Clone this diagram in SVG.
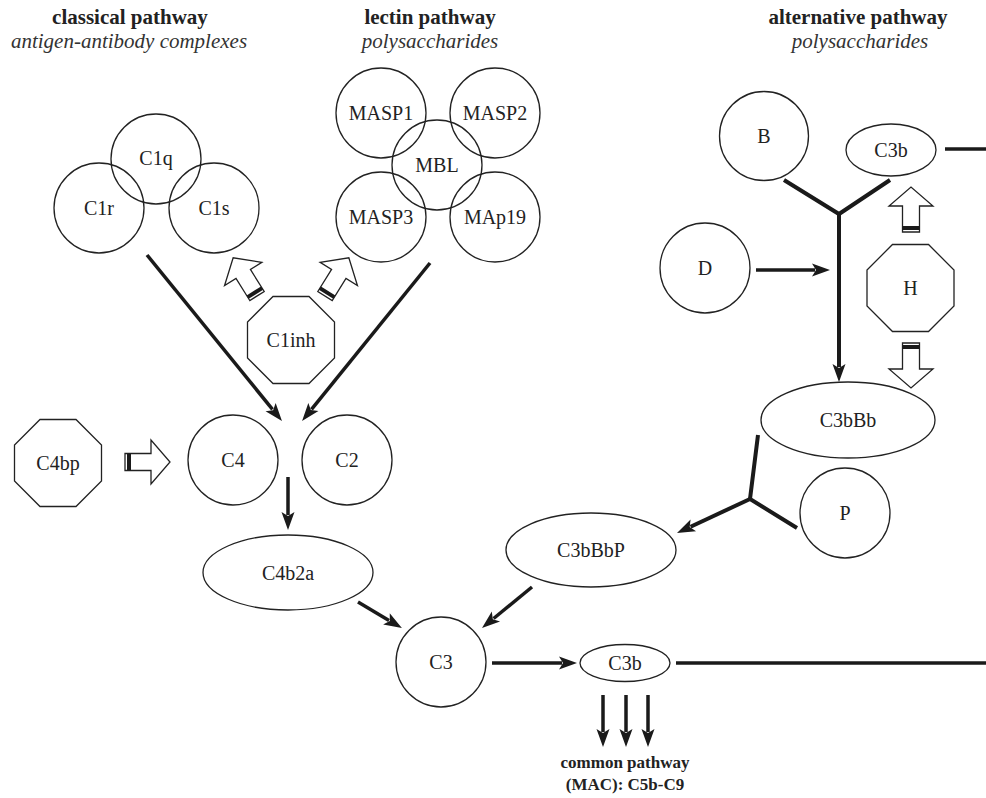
<svg xmlns="http://www.w3.org/2000/svg" xmlns:xlink="http://www.w3.org/1999/xlink" width="986" height="798" viewBox="0 0 986 798">
<style>
.n{fill:#fff;stroke:#222;stroke-width:1.3}
.o{fill:none;stroke:#222;stroke-width:1.3}
.t{font-family:"Liberation Serif","Times New Roman",serif;font-size:20px;fill:#222;text-anchor:middle}
.h{font-family:"Liberation Serif","Times New Roman",serif;font-size:21px;font-weight:bold;fill:#222;text-anchor:middle}
.i{font-family:"Liberation Serif","Times New Roman",serif;font-size:21px;font-style:italic;fill:#333;text-anchor:middle}
.c{fill:none;stroke:#1a1a1a;stroke-width:3.5}
.y{fill:none;stroke:#1a1a1a;stroke-width:4}
.a{marker-end:url(#ah)}
</style>
<defs>
<marker id="ah" markerUnits="userSpaceOnUse" markerWidth="20" markerHeight="14" refX="3" refY="6.5" orient="auto" overflow="visible">
<path d="M0,0 L18,6.5 L0,13 L4,6.5 z" fill="#1a1a1a"/>
</marker>
<g id="hollow">
<polygon points="0,-8.5 26,-8.5 26,-22 45,0 26,22 26,8.5 0,8.5" fill="#fff" stroke="#222" stroke-width="1.3"/>
<rect x="2" y="-8.5" width="4" height="17" fill="#1a1a1a"/>
</g>
</defs>

<g id="headers">
<text class="h" x="130" y="24">classical pathway</text>
<text class="i" x="129" y="48">antigen-antibody complexes</text>
<text class="h" x="430" y="24">lectin pathway</text>
<text class="i" x="430" y="48">polysaccharides</text>
<text class="h" x="858" y="24">alternative pathway</text>
<text class="i" x="860" y="48">polysaccharides</text>
</g>

<g id="connectors">
<line class="c a" x1="147" y1="255" x2="272.5" y2="409.4"/>
<line class="c a" x1="430" y1="263" x2="311.5" y2="409.3"/>
<line class="c a" x1="288" y1="477" x2="288" y2="515"/>
<line class="c a" x1="358" y1="602" x2="389" y2="620.4"/>
<line class="c a" x1="532" y1="587" x2="493.6" y2="618.5"/>
<line class="c a" x1="492" y1="663" x2="562" y2="663"/>
<line class="c a" x1="603" y1="695" x2="603" y2="732"/>
<line class="c a" x1="626" y1="695" x2="626" y2="732"/>
<line class="c a" x1="648" y1="695" x2="648" y2="732"/>
<line class="c" x1="676" y1="663" x2="986" y2="663"/>
<line class="c" x1="945" y1="149" x2="986" y2="149"/>
<line class="c a" x1="756" y1="270" x2="815" y2="270"/>
<polyline class="y" points="784,180 839,214 890,180"/>
<line class="y a" x1="839" y1="212" x2="839" y2="367"/>
<polyline class="y" points="758,435 750,499 797,528"/>
<line class="y a" x1="750" y1="499" x2="690.6" y2="526.7"/>
<use xlink:href="#hollow" transform="translate(125,462)"/>
<use xlink:href="#hollow" transform="translate(911,232) rotate(-90)"/>
<use xlink:href="#hollow" transform="translate(911,343) rotate(90)"/>
<use xlink:href="#hollow" transform="translate(257,296) rotate(-122)"/>
<use xlink:href="#hollow" transform="translate(325,296) rotate(-58)"/>
</g>

<g id="C1q"><circle class="o" cx="156" cy="159" r="45"/><text class="t" x="156" y="165">C1q</text></g>
<g id="C1r"><circle class="o" cx="99" cy="208" r="45"/><text class="t" x="99" y="215">C1r</text></g>
<g id="C1s"><circle class="o" cx="214" cy="208" r="45"/><text class="t" x="214" y="215">C1s</text></g>

<g id="MASP1"><circle class="o" cx="381" cy="113" r="45"/><text class="t" x="381" y="120">MASP1</text></g>
<g id="MASP2"><circle class="o" cx="495" cy="113" r="45"/><text class="t" x="495" y="120">MASP2</text></g>
<g id="MASP3"><circle class="o" cx="381" cy="217" r="45"/><text class="t" x="381" y="224">MASP3</text></g>
<g id="MAp19"><circle class="o" cx="495" cy="217" r="45"/><text class="t" x="495" y="224">MAp19</text></g>
<g id="MBL"><circle class="o" cx="437" cy="165" r="45"/><text class="t" x="437" y="172">MBL</text></g>

<g id="C1inh"><polygon class="n" points="273,296.5 309,296.5 334.5,322 334.5,358 309,383.5 273,383.5 247.5,358 247.5,322"/><text class="t" x="291" y="347">C1inh</text></g>
<g id="C4bp"><polygon class="n" points="40,419.5 76,419.5 101.5,445 101.5,481 76,506.5 40,506.5 14.5,481 14.5,445"/><text class="t" x="58" y="470">C4bp</text></g>
<g id="C4"><circle class="n" cx="233" cy="460" r="45"/><text class="t" x="233" y="467">C4</text></g>
<g id="C2"><circle class="n" cx="347" cy="460" r="45"/><text class="t" x="347" y="467">C2</text></g>
<g id="C4b2a"><ellipse class="n" cx="288" cy="572.5" rx="85" ry="37.5"/><text class="t" x="288" y="580">C4b2a</text></g>
<g id="C3"><circle class="n" cx="441" cy="662" r="45"/><text class="t" x="441" y="669">C3</text></g>
<g id="C3bBbP"><ellipse class="n" cx="591" cy="550" rx="85" ry="37"/><text class="t" x="591" y="557">C3bBbP</text></g>
<g id="C3b-common"><ellipse class="n" cx="625" cy="663" rx="45" ry="18.5"/><text class="t" x="625" y="670">C3b</text></g>
<g id="common-label">
<text class="h" x="625" y="768" style="font-size:17px">common pathway</text>
<text class="h" x="625" y="790" style="font-size:17px">(MAC): C5b-C9</text>
</g>

<g id="B"><circle class="n" cx="764" cy="136" r="44.5"/><text class="t" x="764" y="143">B</text></g>
<g id="C3b-alt"><ellipse class="n" cx="891" cy="150" rx="45" ry="26"/><text class="t" x="891" y="157">C3b</text></g>
<g id="D"><circle class="n" cx="705" cy="268" r="45"/><text class="t" x="705" y="275">D</text></g>
<g id="H"><polygon class="n" points="892.5,244.5 928.5,244.5 954,270 954,306 928.5,331.5 892.5,331.5 867,306 867,270"/><text class="t" x="910.5" y="295">H</text></g>
<g id="C3bBb"><ellipse class="n" cx="848" cy="420" rx="87" ry="38"/><text class="t" x="848" y="427">C3bBb</text></g>
<g id="P"><circle class="n" cx="845" cy="513" r="45"/><text class="t" x="845" y="520">P</text></g>
</svg>
